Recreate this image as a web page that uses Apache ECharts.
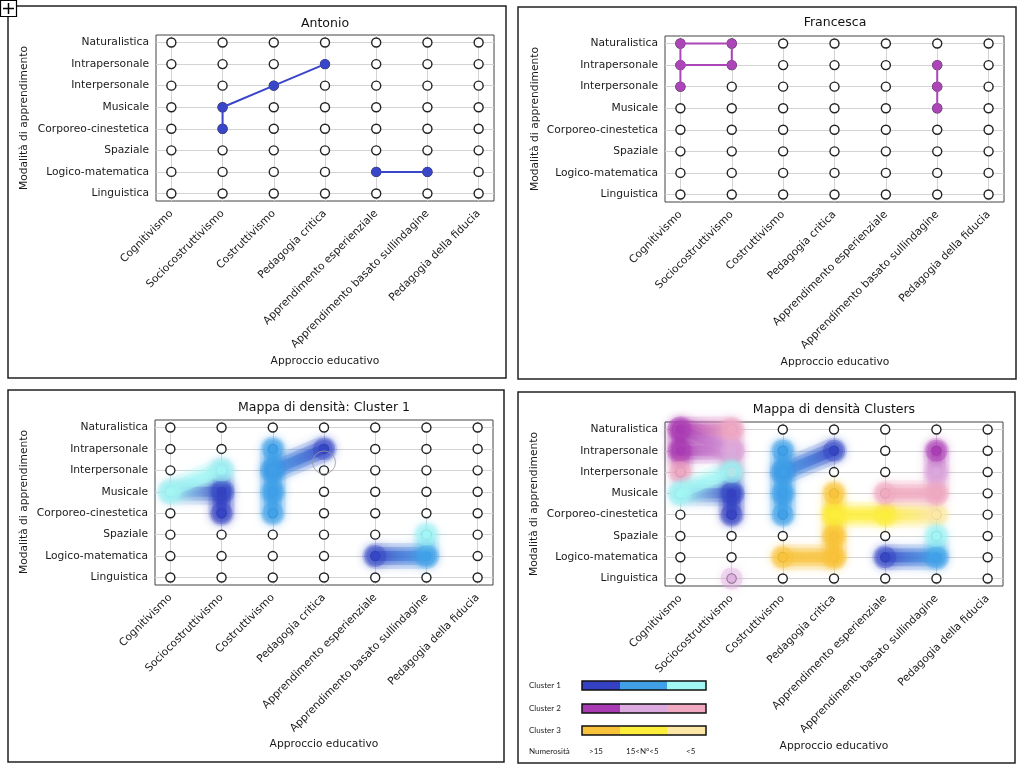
<!DOCTYPE html>
<html><head><meta charset="utf-8">
<script src="https://cdn.jsdelivr.net/npm/echarts@6/dist/echarts.min.js"></script>
<style>html,body{margin:0;padding:0;background:#fff}#c{width:1024px;height:768px}</style>
</head><body><div id="c"></div>
<script>
// ---------- data ----------
const xCats = ['Cognitivismo','Sociocostruttivismo','Costruttivismo','Pedagogia critica','Apprendimento esperienziale','Apprendimento basato sullindagine','Pedagogia della fiducia'];
const yCats = ['Linguistica','Logico-matematica','Spaziale','Corporeo-cinestetica','Musicale','Interpersonale','Intrapersonale','Naturalistica'];
const panelTitles = ['Antonio','Francesca','Mappa di densità: Cluster 1','Mappa di densità Clusters'];
const xName = 'Approccio educativo';
const yName = 'Modalità di apprendimento';
// student paths: [xIndex, yIndex]
const antonioPaths = [[[1,3],[1,4],[2,5],[3,6]], [[4,1],[5,1]]];
const francescaPaths = [[[0,5],[0,6],[0,7],[1,7],[1,6],[0,6]], [[5,6],[5,5],[5,4]]];
// density nodes: [xIndex, yIndex, level] level 1: >15, 2: 15<N°<5, 3: <5
const cluster1Nodes = [[0,4,3],[1,4,1],[1,3,1],[1,5,3],[2,6,2],[2,5,2],[2,4,2],[2,3,2],[3,6,1],[4,1,1],[5,1,2],[5,2,3]];
const cluster1Edges = [[0,4,1,4],[0,4,1,5],[1,5,1,4],[1,4,1,3],[2,6,2,5],[2,5,2,4],[2,4,2,3],[2,5,3,6],[4,1,5,1],[5,1,5,2]];
const cluster2Nodes = [[0,7,1],[0,6,1],[0,5,3],[1,7,3],[1,6,2],[1,5,3],[1,0,2],[4,4,3],[5,4,3],[5,5,2],[5,6,1]];
const cluster2Edges = [[0,7,0,6],[0,6,0,5],[0,7,1,7],[0,6,1,6],[0,7,1,6],[1,7,1,6],[1,6,1,5],[4,4,5,4],[5,4,5,5],[5,5,5,6]];
const cluster3Nodes = [[2,1,1],[3,1,1],[3,2,1],[3,3,2],[3,4,1],[4,3,2],[5,3,3]];
const cluster3Edges = [[2,1,3,1],[3,1,3,2],[3,2,3,3],[3,3,3,4],[3,3,4,3],[4,3,5,3]];
const artifactRing = [[3,5.37]];
const clusterNames = ['Cluster 1','Cluster 2','Cluster 3'];
const levelLabels = ['>15','15<N°<5','<5'];
const legendTitle = 'Numerosità';

// ---------- styles ----------
const palette = {
  1:['#3441c2','#3fa0e8','#a2f6f4'],
  2:['#a83ab3','#dcaade','#f0a9c0'],
  3:['#f8c23a','#fdee3c','#fce7a6']
};
const antonioColor = '#3a46c8';
const francescaColor = '#ab45b8';
const FONT = 'DejaVu Sans';
const LBL = 10.7;
const grids = [
  {left:156, top:35, width:338, height:166},
  {left:665, top:36, width:339, height:166},
  {left:155, top:420, width:338, height:165},
  {left:665, top:422, width:338, height:164}
];
const panels = [
  {x:8, y:6, w:498, h:372},
  {x:518, y:7, w:498, h:372},
  {x:8, y:390, w:496, h:372},
  {x:518, y:392, w:497, h:371}
];

function hexToRgb(h){const n=parseInt(h.slice(1),16);return [n>>16&255,n>>8&255,n&255];}
function mix(a,b,al){const A=hexToRgb(a),B=hexToRgb(b);return 'rgba('+((A[0]+B[0])>>1)+','+((A[1]+B[1])>>1)+','+((A[2]+B[2])>>1)+','+al+')';}

const xIdx = xCats.map((_,i)=>i);
const yIdx = yCats.map((_,i)=>i);
const allPoints = [];
xIdx.forEach(x=>yIdx.forEach(y=>allPoints.push([x,y])));

const xAxes = grids.map((g,i)=>({
  type:'value', gridIndex:i, min:-0.3, max:6.3, splitNumber:7,
  axisLine:{show:false},
  axisTick:{show:true, length:4, lineStyle:{color:'#333'}, customValues:xIdx},
  axisLabel:{customValues:xIdx, rotate:45, margin:11, fontSize:LBL, color:'#1a1a1a', fontFamily:FONT,
    formatter:v=>Number.isInteger(v)&&v>=0&&v<xCats.length?xCats[v]:''},
  splitLine:{show:true, lineStyle:{color:'#d3d3d3', width:1}}
}));
const yAxes = grids.map((g,i)=>({
  type:'value', gridIndex:i, min:-0.35, max:7.35, splitNumber:8,
  axisLine:{show:false},
  axisTick:{show:true, length:4, lineStyle:{color:'#333'}, customValues:yIdx},
  axisLabel:{customValues:yIdx, margin:7, fontSize:LBL, color:'#1a1a1a', fontFamily:FONT,
    formatter:v=>Number.isInteger(v)&&v>=0&&v<yCats.length?yCats[v]:''},
  splitLine:{show:true, lineStyle:{color:'#d3d3d3', width:1}}
}));

const series = [];
grids.forEach((g,i)=>{
  series.push({type:'scatter', xAxisIndex:i, yAxisIndex:i, data:allPoints, symbol:'circle', symbolSize:9,
    itemStyle:{color:'#fff', borderColor:'#222', borderWidth:1.4, opacity:1}, z:2, silent:true});
});
function pathSeries(gi, paths, color){
  paths.forEach(p=>series.push({type:'line', xAxisIndex:gi, yAxisIndex:gi, data:p, symbol:'circle', symbolSize:9,
    showAllSymbol:true, lineStyle:{color:color, width:2}, itemStyle:{color:color, borderColor:color, borderWidth:1},
    z:3, silent:true, animation:false}));
}
pathSeries(0, antonioPaths, antonioColor);
pathSeries(1, francescaPaths, francescaColor);

const blobLayers = [
  {w:26, op:0.16, blur:8},
  {w:18, op:0.28, blur:6},
  {w:10, op:0.45, blur:4}
];
function blobSeries(gi, nodes, edges, cl){
  const lvl=(x,y)=>nodes.find(n=>n[0]===x&&n[1]===y)[2];
  const edata = edges.map(e=>[e[0],e[1],e[2],e[3],lvl(e[0],e[1]),lvl(e[2],e[3])]);
  blobLayers.forEach(L=>{
    series.push({type:'custom', xAxisIndex:gi, yAxisIndex:gi, z:3, silent:true, data:edata,
      renderItem:(params, api)=>{
        const p1=api.coord([api.value(0),api.value(1)]), p2=api.coord([api.value(2),api.value(3)]);
        const c1=palette[cl][api.value(4)-1], c2=palette[cl][api.value(5)-1];
        return {type:'line', shape:{x1:p1[0],y1:p1[1],x2:p2[0],y2:p2[1]},
          style:{stroke:new echarts.graphic.LinearGradient(p1[0],p1[1],p2[0],p2[1],[{offset:0.1,color:c1},{offset:0.9,color:c2}],true),
            lineWidth:L.w, lineCap:'round', opacity:L.op, shadowBlur:L.blur, shadowColor:mix(c1,c2,1)}};
      }});
  });
  series.push({type:'custom', xAxisIndex:gi, yAxisIndex:gi, z:3, silent:true, data:nodes,
    renderItem:(params, api)=>{
      const p=api.coord([api.value(0),api.value(1)]);
      const c=palette[cl][api.value(2)-1];
      return {type:'circle', shape:{cx:p[0],cy:p[1],r:11},
        style:{fill:c, opacity:0.35, shadowBlur:8, shadowColor:c}};
    }});
}
function dotSeries(gi, nodes, cl){
  series.push({type:'scatter', xAxisIndex:gi, yAxisIndex:gi, z:4, silent:true, data:nodes, symbolSize:9,
    itemStyle:{color:p=>palette[cl][p.data[2]-1], opacity:0.7}});
}
blobSeries(2, cluster1Nodes, cluster1Edges, 1);
dotSeries(2, cluster1Nodes, 1);
series.push({type:'scatter', xAxisIndex:2, yAxisIndex:2, z:5, silent:true, data:artifactRing, symbolSize:23,
  itemStyle:{color:'rgba(0,0,0,0)', borderColor:'#9a9a9a', borderWidth:1}});
blobSeries(3, cluster3Nodes, cluster3Edges, 3);
blobSeries(3, cluster2Nodes, cluster2Edges, 2);
blobSeries(3, cluster1Nodes, cluster1Edges, 1);
dotSeries(3, cluster3Nodes, 3);
dotSeries(3, cluster2Nodes, 2);
dotSeries(3, cluster1Nodes, 1);

// ---------- graphics ----------
const graphic = [];
panels.forEach(p=>graphic.push({type:'rect', shape:{x:p.x,y:p.y,width:p.w,height:p.h}, style:{fill:'none', stroke:'#222', lineWidth:1.5}, z:10}));
graphic.push({type:'rect', shape:{x:0.5,y:0.5,width:16,height:16}, style:{fill:'#fff', stroke:'#000', lineWidth:1.2}, z:11});
graphic.push({type:'line', shape:{x1:3,y1:8.5,x2:14,y2:8.5}, style:{stroke:'#000', lineWidth:1.5}, z:12});
graphic.push({type:'line', shape:{x1:8.5,y1:3,x2:8.5,y2:14}, style:{stroke:'#000', lineWidth:1.5}, z:12});
const titlePos=[[325,24],[835,23],[324,408],[834,410]];
const xNamePos=[[325,361],[835,362],[324,744],[834,746]];
const yNamePos=[[24,118],[535,119],[24,502],[534,504]];
panelTitles.forEach((t,i)=>{
  graphic.push({type:'text', x:titlePos[i][0], y:titlePos[i][1], style:{text:t, font:'12.5px "DejaVu Sans"', fill:'#111', textAlign:'center', textVerticalAlign:'middle'}, z:12});
  graphic.push({type:'text', x:xNamePos[i][0], y:xNamePos[i][1], style:{text:xName, font:LBL+'px "DejaVu Sans"', fill:'#1a1a1a', textAlign:'center', textVerticalAlign:'middle'}, z:12});
  graphic.push({type:'text', x:yNamePos[i][0], y:yNamePos[i][1], rotation:Math.PI/2, style:{text:yName, font:LBL+'px "DejaVu Sans"', fill:'#1a1a1a', textAlign:'center', textVerticalAlign:'middle'}, z:12});
});
// legend
const legX=582, segW=[38,47,39], legBarY=[681,704,726], barH=9;
clusterNames.forEach((n,ci)=>{
  graphic.push({type:'text', x:529, y:legBarY[ci]+4.5, style:{text:n, font:'8px Lato', fill:'#222', textVerticalAlign:'middle'}, z:12});
  let xx=legX;
  palette[ci+1].forEach((c,k)=>{
    graphic.push({type:'rect', shape:{x:xx,y:legBarY[ci],width:segW[k],height:barH}, style:{fill:c}, z:12});
    xx+=segW[k];
  });
  graphic.push({type:'rect', shape:{x:legX,y:legBarY[ci],width:124,height:barH}, style:{fill:'none', stroke:'#111', lineWidth:1.5}, z:13});
});
graphic.push({type:'text', x:529, y:751, style:{text:legendTitle, font:'8px Lato', fill:'#222', textVerticalAlign:'middle'}, z:12});
const lvlX=[589,626,686];
levelLabels.forEach((l,k)=>graphic.push({type:'text', x:lvlX[k], y:751, style:{text:l, font:'8px Lato', fill:'#222', textVerticalAlign:'middle'}, z:12}));

const chart = echarts.init(document.getElementById('c'), null, {renderer:'canvas'});
chart.setOption({
  animation:false,
  backgroundColor:'#fff',
  grid: grids.map(g=>Object.assign({show:true, borderColor:'#444', borderWidth:1, backgroundColor:'rgba(0,0,0,0)', containLabel:false, outerBoundsMode:'none'}, g)),
  xAxis:xAxes, yAxis:yAxes, series, graphic
});
</script></body></html>
